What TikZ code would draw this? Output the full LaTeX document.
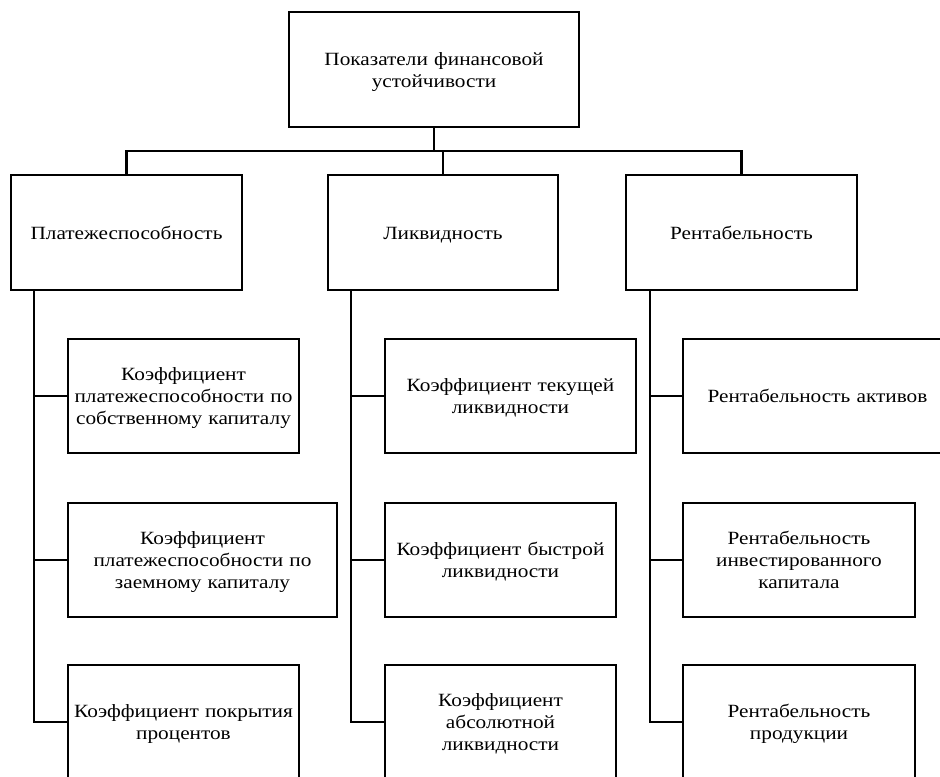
\documentclass[tikz,border=0pt]{standalone}
\usepackage{fontspec}
\setmainfont{Liberation Serif}[FakeStretch=1.14]
\newcommand\topstrut{\rule{0pt}{13pt}}
\newcommand\botstrut{\rule[-3pt]{0pt}{3pt}}
\begin{document}
\begin{tikzpicture}[x=0.75pt,y=-0.75pt,line width=1.7pt,
    box/.style={draw,align=center,inner sep=2pt,minimum height=85.75pt,
      minimum width=#1,text width=#1-6pt,
      font=\fontsize{14}{16.3}\selectfont,
      execute at begin node=\topstrut,execute at end node=\botstrut}]
  \useasboundingbox (0,0) rectangle (940,776);
  \node[box=217.5pt] (top) at (434,69.5)
    {Показатели финансовой\\устойчивости};
  \node[box=173.25pt] (pl) at (126.5,232.5) {Платежеспособность};
  \node[box=172.5pt] (lq) at (443,232.5) {Ликвидность};
  \node[box=173.25pt] (rt) at (741.5,232.5) {Рентабельность};

  \node[box=173.25pt] (pl1) at (183.5,396)
    {Коэффициент\\платежеспособности по\\собственному капиталу};
  \node[box=201.75pt] (pl2) at (202.5,560)
    {Коэффициент\\платежеспособности по\\заемному капиталу};
  \node[box=173.25pt] (pl3) at (183.5,722)
    {Коэффициент покрытия\\процентов};

  \node[box=188.25pt] (lq1) at (510.5,396)
    {Коэффициент текущей\\ликвидности};
  \node[box=173.25pt] (lq2) at (500.5,560)
    {Коэффициент быстрой\\ликвидности};
  \node[box=173.25pt] (lq3) at (500.5,722)
    {Коэффициент\\абсолютной\\ликвидности};

  \node[box=201.75pt] (rt1) at (817.5,396)
    {Рентабельность активов};
  \node[box=174pt] (rt2) at (799,560)
    {Рентабельность\\инвестированного\\капитала};
  \node[box=174pt] (rt3) at (799,722)
    {Рентабельность\\продукции};

  \coordinate (bus) at (0,151);
  \draw (top.south) -- (top.south |- bus);
  \draw (pl.north) -- (pl.north |- bus) -- (rt.north |- bus) -- (rt.north);
  \draw (lq.north) -- (lq.north |- bus);

  \coordinate (plx) at (34,0);
  \coordinate (lqx) at (351,0);
  \coordinate (rtx) at (650,0);
  \foreach \c in {pl,lq,rt} {
    \draw (\c x |- \c.south) |- (\c3.west);
    \foreach \n in {1,2}
      \draw (\c x |- \c\n.west) -- (\c\n.west);
  }
\end{tikzpicture}
\end{document}
